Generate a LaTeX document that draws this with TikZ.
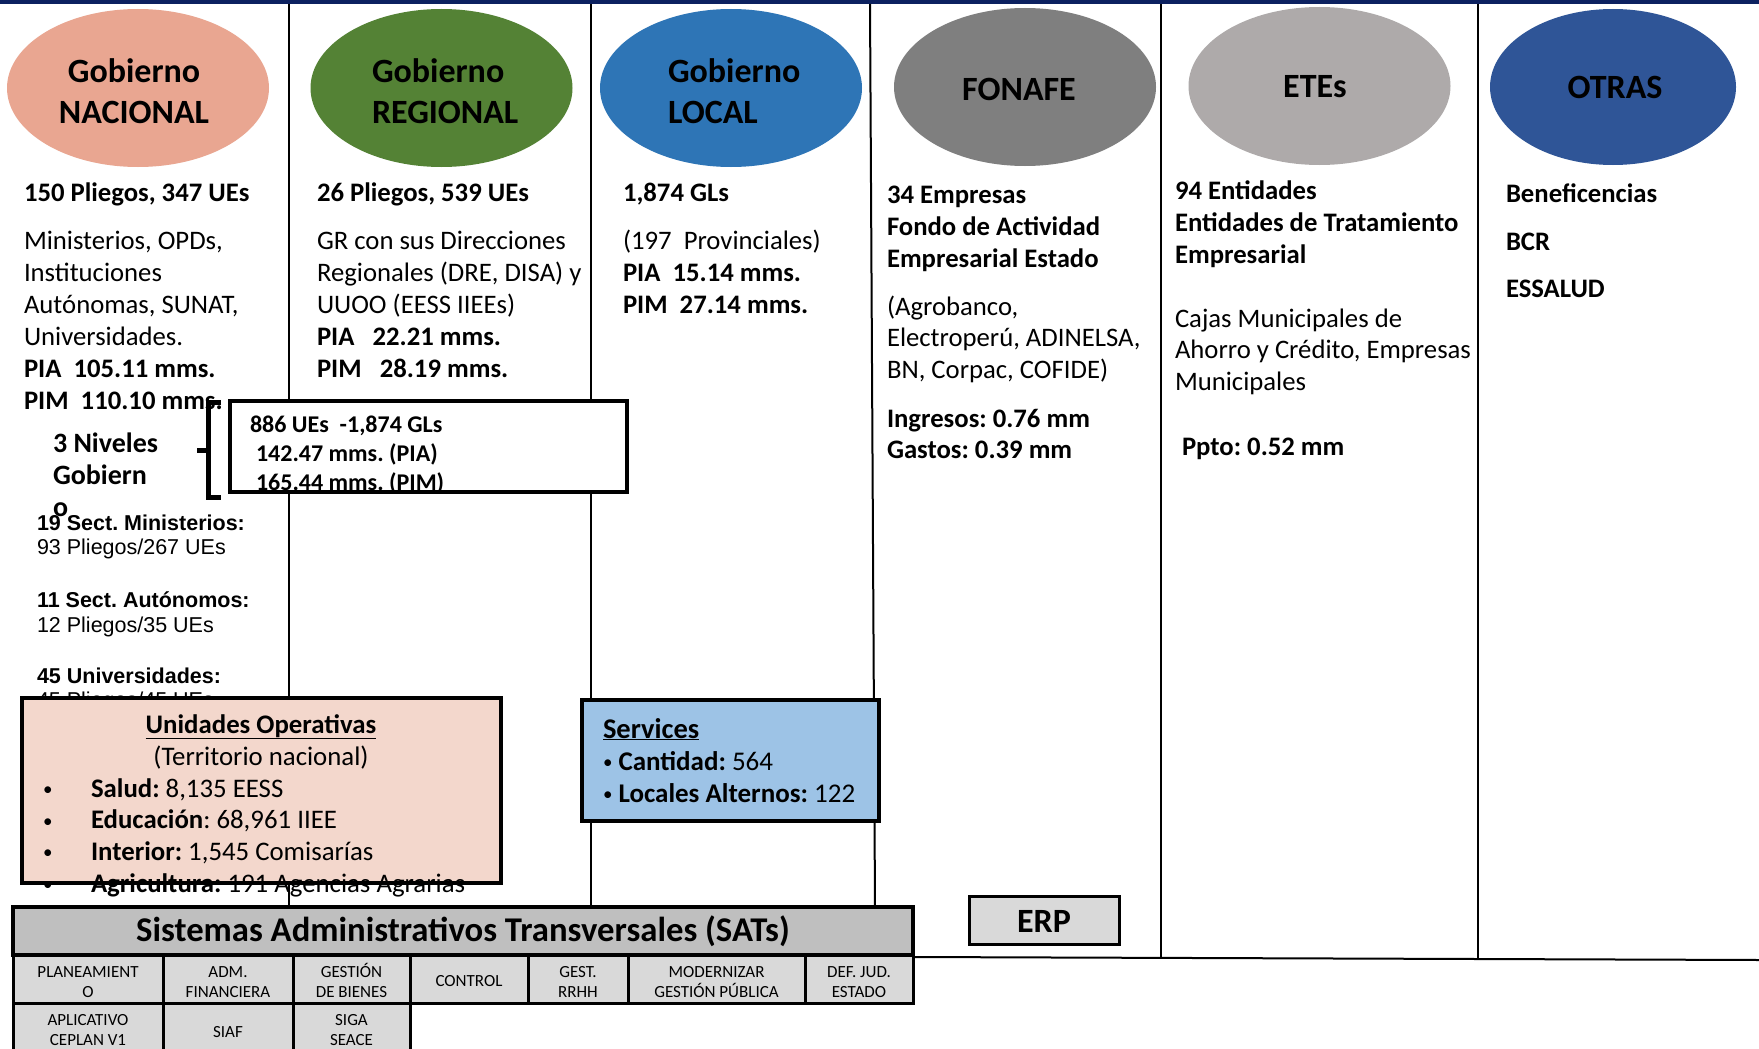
\documentclass[tikz,border=0pt]{standalone}
\usepackage{fontspec}
\setmainfont{Carlito}
\newfontfamily\arialf{Liberation Sans}
\usetikzlibrary{shapes.geometric}
\frenchspacing
\definecolor{navybar}{RGB}{12,33,96}
\definecolor{salmon}{RGB}{233,166,145}
\definecolor{grgreen}{RGB}{84,130,53}
\definecolor{glblue}{RGB}{46,117,182}
\definecolor{fongray}{RGB}{127,127,127}
\definecolor{etegray}{RGB}{174,170,170}
\definecolor{otrblue}{RGB}{47,85,151}
\definecolor{uopink}{RGB}{243,215,204}
\definecolor{svblue}{RGB}{157,195,230}
\definecolor{satgray}{RGB}{191,191,191}
\definecolor{cellgray}{RGB}{217,217,217}
\newcommand{\Lft}[1]{\vtop{\halign{##\hfil\cr#1\crcr}}}
\newcommand{\Ctr}[1]{\vtop{\halign{\hfil##\hfil\cr#1\crcr}}}
\newcommand{\smbul}{\raisebox{1.5pt}{\fontsize{19}{19}\selectfont\textbullet}}
\newcommand{\bul}{\makebox[48pt][l]{\smbul}}
\newcommand{\sbul}{\makebox[15.5pt][l]{\smbul}}
\begin{document}
\begin{tikzpicture}[x=1pt,y=-1pt,
  every node/.style={inner sep=0pt,outer sep=0pt},
  bodytxt/.style={anchor=base west,font=\fontsize{26.7}{32}\selectfont},
  elltitle/.style={font=\fontsize{34}{41}\selectfont\bfseries},
  ell/.style={ellipse,minimum width=262pt,minimum height=158pt},
  sepline/.style={line width=2pt},
  thickbox/.style={draw,line width=4pt},
  cellbox/.style={draw,line width=3pt,fill=cellgray},
  celltxt/.style={anchor=base,font=\fontsize{17}{20}\selectfont},
  ariatxt/.style={anchor=base west,font=\arialf\fontsize{21.5}{24.5}\selectfont},
]
\useasboundingbox (0,0) rectangle (1759,1049);
\fill[white] (0,0) rectangle (1759,1049);
\fill[navybar] (0,0) rectangle (1759,4);

% column separators
\draw[sepline] (289,4) -- (289,907);
\draw[sepline] (591,4) -- (591,907);
\draw[sepline] (870,4) -- (875,907);
\draw[sepline] (1161,4) -- (1161,958);
\draw[sepline] (1478,4) -- (1478,958);
\draw[sepline] (913,957) -- (1759,960);

% ellipses
\node[ell,fill=salmon] (nac) at (138,88) {};
\node[ell,fill=grgreen] (reg) at (441.5,88) {};
\node[ell,fill=glblue] (loc) at (731,88) {};
\node[ell,fill=fongray] (fon) at (1025,87) {};
\node[ell,fill=etegray] (ete) at (1319.5,86) {};
\node[ell,fill=otrblue,minimum width=246pt,minimum height=156pt] (otr) at (1613,87) {};

\node[elltitle,anchor=base] (tnac) at (134,82) {\Ctr{Gobierno\cr NACIONAL}};
\node[elltitle,anchor=base west] (treg) at (372,82) {\Lft{Gobierno\cr REGIONAL}};
\node[elltitle,anchor=base west] (tloc) at (668,82) {\Lft{Gobierno\cr LOCAL}};
\node[elltitle,anchor=base] (tfon) at (1019,100) {FONAFE};
\node[elltitle,anchor=base] (tete) at (1315,97) {ETEs};
\node[elltitle,anchor=base] (totr) at (1615,99) {OTRAS};

% column 1
\node[bodytxt] (n1a) at (24,201) {\bfseries 150 Pliegos, 347 UEs};
\node[bodytxt] (n1b) at (24,249) {\Lft{Ministerios, OPDs,\cr Instituciones\cr Aut\'onomas, SUNAT,\cr Universidades.\cr \bfseries PIA\ \ 105.11 mms.\cr \bfseries PIM\ \ 110.10 mms.}};
% column 2
\node[bodytxt] (n2a) at (317,201) {\bfseries 26 Pliegos, 539 UEs};
\node[bodytxt] (n2b) at (317,249) {\Lft{GR con sus Direcciones\cr Regionales (DRE, DISA) y\cr UUOO (EESS IIEEs)\cr \bfseries PIA\ \ \ 22.21 mms.\cr \bfseries PIM\ \ \ 28.19 mms.}};
% column 3
\node[bodytxt] (n3a) at (623,201) {\bfseries 1,874 GLs};
\node[bodytxt] (n3b) at (623,249) {\Lft{(197\ \ Provinciales)\cr \bfseries PIA\ \ 15.14 mms.\cr \bfseries PIM\ \ 27.14 mms.}};
% column 4
\node[bodytxt] (n4a) at (887,203) {\Lft{\bfseries 34 Empresas\cr \bfseries Fondo de Actividad\cr \bfseries Empresarial Estado}};
\node[bodytxt,font=\fontsize{26.7}{31.5}\selectfont] (n4b) at (887,315) {\Lft{(Agrobanco,\cr Electroper\'u, ADINELSA,\cr BN, Corpac, COFIDE)}};
\node[bodytxt,font=\fontsize{26.7}{31}\selectfont] (n4c) at (887,427) {\Lft{\bfseries Ingresos: 0.76 mm\cr \bfseries Gastos: 0.39 mm}};
% column 5
\node[bodytxt] (n5a) at (1175,199) {\Lft{\bfseries 94 Entidades\cr \bfseries Entidades de Tratamiento\cr \bfseries Empresarial}};
\node[bodytxt,font=\fontsize{26.7}{31.5}\selectfont] (n5b) at (1175,327) {\Lft{Cajas Municipales de\cr Ahorro y Cr\'edito, Empresas\cr Municipales}};
\node[bodytxt] (n5c) at (1182,455) {\bfseries Ppto: 0.52 mm};
% column 6
\node[bodytxt] (n6a) at (1506,202) {\bfseries Beneficencias};
\node[bodytxt] (n6b) at (1506,250) {\bfseries BCR};
\node[bodytxt] (n6c) at (1506,297) {\bfseries ESSALUD};

% three levels
\node[bodytxt,font=\fontsize{28}{32}\selectfont\bfseries] (niv) at (53,452) {\Lft{3 Niveles\cr Gobiern\cr o}};
\node[ariatxt] (sm1) at (37,530) {\Lft{\bfseries 19 Sect. Ministerios:\cr 93 Pliegos/267 UEs}};
\node[ariatxt,font=\arialf\fontsize{21.5}{25}\selectfont] (sm2) at (37,607) {\Lft{\bfseries 11 Sect. Aut\'onomos:\cr 12 Pliegos/35 UEs}};
\node[ariatxt] (sm3) at (37,683) {\Lft{\bfseries 45 Universidades:\cr 45 Pliegos/45 UEs}};

\node[fill=white,minimum width=397pt,minimum height=91pt] (tot) at (428.5,446.5) {};
\node[bodytxt,font=\fontsize{24}{29}\selectfont\bfseries] (tott) at (250,432) {\Lft{886 UEs\ \ -1,874 GLs\cr \hspace{6pt}142.47 mms. (PIA)\cr \hspace{6pt}165.44 mms. (PIM)}};
\draw[line width=3.5pt] (tot.north west) rectangle (tot.south east);
\coordinate (bt) at (221,402);
\coordinate (bb) at (221,497);
\coordinate (bm) at (197,450);
\draw[line width=5pt] (bt) -- (208,402) -- (208,497) -- (bb);
\draw[line width=5pt] (bm) -- (208,450);

% unidades operativas
\node[thickbox,fill=uopink,minimum width=479pt,minimum height=185pt] (uo) at (261.5,790.5) {};
\node[anchor=base,font=\fontsize{26.8}{32}\selectfont] (uot) at (261,733) {\Ctr{\bfseries\underline{Unidades Operativas}\cr (Territorio nacional)}};
\node[bodytxt,font=\fontsize{26.8}{31.7}\selectfont] (uol) at (43,797) {\Lft{\bul\textbf{Salud:} 8,135 EESS\cr \bul\textbf{Educaci\'on}: 68,961 IIEE\cr \bul\textbf{Interior:} 1,545 Comisar\'ias\cr \bul\textbf{Agricultura:} 191 Agencias Agrarias}};

% services
\node[thickbox,fill=svblue,minimum width=297pt,minimum height=121pt] (sv) at (730.5,760.5) {};
\node[bodytxt,font=\fontsize{27}{32}\selectfont] (svt) at (603,738) {\Lft{{\fontsize{28.5}{32}\selectfont\bfseries\underline{Services}}\cr \sbul\textbf{Cantidad:} 564\cr \sbul\textbf{Locales Alternos:} 122}};

% SATs
\node[thickbox,fill=satgray,minimum width=900pt,minimum height=48pt] (sat) at (463,931) {};
\node[anchor=base,font=\fontsize{34.7}{40}\selectfont\bfseries] (satt) at (463,941) {Sistemas Administrativos Transversales (SATs)};

\node[cellbox,minimum width=150pt,minimum height=48pt] (c1) at (88,979) {};
\node[cellbox,minimum width=130pt,minimum height=48pt] (c2) at (228,979) {};
\node[cellbox,minimum width=117pt,minimum height=48pt] (c3) at (351.5,979) {};
\node[cellbox,minimum width=118pt,minimum height=48pt] (c4) at (469,979) {};
\node[cellbox,minimum width=100pt,minimum height=48pt] (c5) at (578,979) {};
\node[cellbox,minimum width=177pt,minimum height=48pt] (c6) at (716.5,979) {};
\node[cellbox,minimum width=108pt,minimum height=48pt] (c7) at (859,979) {};
\node[cellbox,minimum width=150pt,minimum height=57pt] (d1) at (88,1031.5) {};
\node[cellbox,minimum width=130pt,minimum height=57pt] (d2) at (228,1031.5) {};
\node[cellbox,minimum width=117pt,minimum height=57pt] (d3) at (351.5,1031.5) {};

\node[celltxt] (c1t) at (88,977) {\Ctr{PLANEAMIENT\cr O}};
\node[celltxt] (c2t) at (228,977) {\Ctr{ADM.\cr FINANCIERA}};
\node[celltxt] (c3t) at (351.5,977) {\Ctr{GESTI\'ON\cr DE BIENES}};
\node[celltxt] (c4t) at (469,986) {CONTROL};
\node[celltxt] (c5t) at (578,977) {\Ctr{GEST.\cr RRHH}};
\node[celltxt] (c6t) at (716.5,977) {\Ctr{MODERNIZAR\cr GESTI\'ON P\'UBLICA}};
\node[celltxt] (c7t) at (859,977) {\Ctr{DEF. JUD.\cr ESTADO}};
\node[celltxt] (d1t) at (88,1025) {\Ctr{APLICATIVO\cr CEPLAN V1}};
\node[celltxt] (d2t) at (228,1037) {SIAF};
\node[celltxt] (d3t) at (351.5,1025) {\Ctr{SIGA\cr SEACE}};

% ERP
\node[draw,line width=3pt,fill=cellgray,minimum width=150pt,minimum height=48pt] (erp) at (1044,920) {};
\node[anchor=base,font=\fontsize{34}{40}\selectfont\bfseries] (erpt) at (1044,932) {ERP};
\end{tikzpicture}
\end{document}
